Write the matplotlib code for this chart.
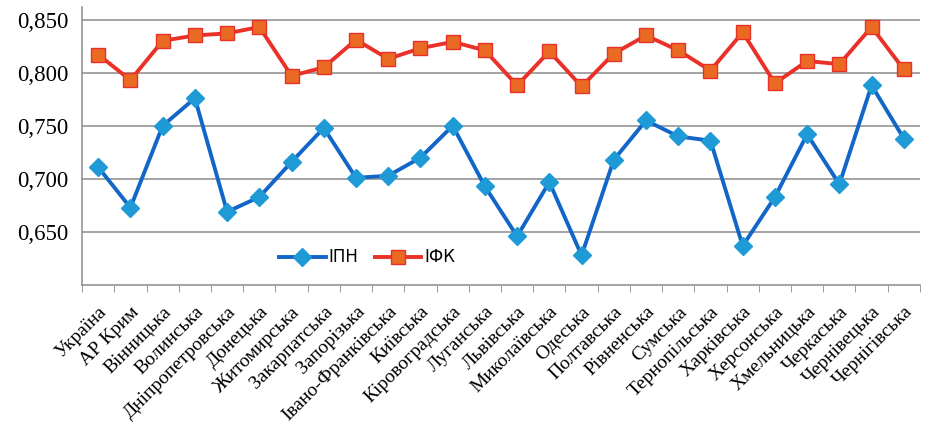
import matplotlib
matplotlib.use("Agg")
import matplotlib.pyplot as plt
import numpy as np
from matplotlib.ticker import FuncFormatter

regions = ["Україна", "АР Крим", "Вінницька", "Волинська", "Дніпропетровська",
           "Донецька", "Житомирська", "Закарпатська", "Запорізька",
           "Івано-Франківська", "Київська", "Кіровоградська", "Луганська",
           "Львівська", "Миколаївська", "Одеська", "Полтавська", "Рівненська",
           "Сумська", "Тернопільська", "Харківська", "Херсонська",
           "Хмельницька", "Черкаська", "Чернівецька", "Чернігівська"]

ipn = [0.711, 0.673, 0.750, 0.776, 0.669, 0.683, 0.716, 0.748, 0.701,
       0.703, 0.720, 0.750, 0.693, 0.646, 0.697, 0.628, 0.718, 0.755,
       0.740, 0.736, 0.637, 0.683, 0.742, 0.695, 0.788, 0.738]

ifk = [0.817, 0.793, 0.830, 0.835, 0.837, 0.843, 0.797, 0.805, 0.831,
       0.813, 0.823, 0.829, 0.821, 0.788, 0.820, 0.787, 0.818, 0.835,
       0.821, 0.802, 0.838, 0.790, 0.811, 0.808, 0.843, 0.803]

yticks = [0.650, 0.700, 0.750, 0.800, 0.850]

fig = plt.figure(figsize=(9.33, 4.25), dpi=100)
ax = fig.add_axes([0.088, 0.329, 0.898, 0.655])

x = np.arange(len(regions))
ax.plot(x, ipn, color="#1266C8", lw=2.8, marker="D", ms=9,
        mfc="#1E9AD6", mec="#1E9AD6", label="ІПН", zorder=3)
ax.plot(x, ifk, color="#EA3028", lw=2.8, marker="s", ms=10.5,
        mfc="#EA6A24", mec="#E8302A", mew=1.0, label="ІФК", zorder=3)

ax.set_xlim(-0.5, len(regions) - 0.5)
ax.set_ylim(0.600, 0.862)
ax.set_yticks(yticks)
ax.yaxis.set_major_formatter(FuncFormatter(lambda v, p: f"{v:.3f}".replace(".", ",")))
ax.grid(axis="y", color="#8c8c8c", lw=1.1)
ax.set_axisbelow(True)

for s in ("top", "right"):
    ax.spines[s].set_visible(False)
for s in ("left", "bottom"):
    ax.spines[s].set_color("#8c8c8c")
    ax.spines[s].set_linewidth(1.1)

ax.set_xticks(x)
ax.set_xticklabels(regions, rotation=45, ha="right", rotation_mode="anchor",
                   fontfamily="Liberation Serif", fontsize=14)
ax.set_xticks(np.arange(-0.5, len(regions)), minor=True)
ax.tick_params(axis="x", which="major", length=0, pad=13)
ax.tick_params(axis="x", which="minor", length=5, color="#8c8c8c")
ax.tick_params(axis="y", length=0, pad=10)
for t in ax.get_yticklabels():
    t.set_fontfamily("Liberation Serif")
    t.set_fontsize(16.5)

leg = ax.legend(loc="center", bbox_to_anchor=(0.34, 0.1), ncol=2, frameon=False,
                fontsize=12, handlelength=2.8, columnspacing=1.0, handletextpad=0.15)

fig.savefig("out.png", dpi=100)
